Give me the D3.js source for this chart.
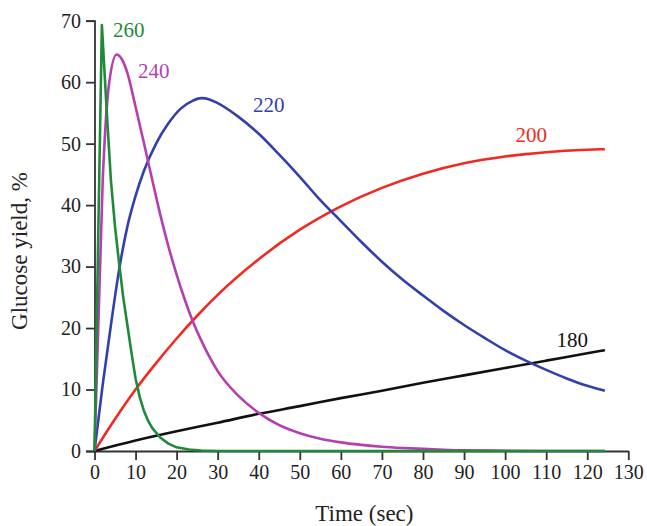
<!DOCTYPE html>
<html>
<head>
<meta charset="utf-8">
<script src="https://cdn.jsdelivr.net/npm/d3@7"></script>
<style>
  body { margin: 0; background: #fff; }
  svg text { font-family: "Liberation Serif", "Times New Roman", serif; }
</style>
</head>
<body>
<div id="chart"></div>
<script>
// values (time in sec, glucose yield in %)
const t180 = [0, 10, 20, 30, 40, 50, 60, 70, 80, 90, 100, 110, 120, 124.3];
const y180 = [0, 1.7, 3.2, 4.6, 6.05, 7.3, 8.6, 9.8, 11.1, 12.3, 13.5, 14.7, 15.9, 16.4];

const t200 = [0, 5, 10, 15, 20, 25, 30, 40, 50, 60, 70, 80, 90, 100, 110, 120, 124.3];
const y200 = [0, 5.2, 10, 14.3, 18.3, 22, 25.4, 31.2, 36, 39.8, 42.8, 45.1, 46.8, 47.9, 48.6, 49.0, 49.1];

const t220 = [0, 2, 4, 6, 8, 10, 12, 15, 18, 21, 24, 26, 28, 30, 35, 40, 45, 50, 55, 60, 65, 70, 75, 80, 85, 90, 95, 100, 105, 110, 115, 120, 124.3];
const y220 = [0, 10.8, 20.5, 29.5, 36.5, 41.5, 45.5, 50, 53.3, 55.7, 57, 57.4, 57.2, 56.6, 54.4, 51.6, 48.2, 44.6, 40.8, 37.4, 34, 30.8, 27.9, 25.3, 22.8, 20.5, 18.4, 16.4, 14.7, 13.2, 11.8, 10.6, 9.8];

const t240 = [0, 2, 3.5, 5.4, 7, 8, 10, 12, 14, 16, 18, 20, 22, 24, 26, 28, 30, 35, 40, 45, 50, 55, 60, 65, 70, 75, 80, 85, 90, 100, 110, 124.3];
const y240 = [0, 44, 59.5, 64.5, 63.3, 61.5, 56, 50.2, 44.3, 38.5, 33.3, 28.7, 24.6, 21.0, 18.0, 15.3, 13.0, 9, 6.2, 4.2, 2.9, 2.0, 1.4, 1.0, 0.7, 0.5, 0.35, 0.2, 0.1, 0.05, 0, 0];

const t260 = [0, 1.8, 3, 4, 5, 6, 7, 8, 9, 10, 11, 12, 13, 14, 16, 18, 20, 23, 26, 30, 40, 124.3];
const y260 = [0, 69.3, 55, 44, 36.5, 30.5, 25, 20.5, 16, 11.8, 8.8, 6.6, 5, 3.8, 2.2, 1.2, 0.6, 0.25, 0.08, 0, 0, 0];

const xTicks = d3.range(0, 131, 10);
const yTicks = d3.range(0, 71, 10);

const series = [
  { name: "180", t: t180, y: y180, color: "#111111", curve: d3.curveMonotoneX, lx: 112.5, ly: 16.9 },
  { name: "200", t: t200, y: y200, color: "#f02a22", curve: d3.curveMonotoneX, lx: 102.5, ly: 50.3 },
  { name: "220", t: t220, y: y220, color: "#3240ac", curve: d3.curveMonotoneX, lx: 38.6, ly: 55.2 },
  { name: "240", t: t240, y: y240, color: "#b43fb0", curve: d3.curveMonotoneX, lx: 10.6, ly: 60.6 },
  { name: "260", t: t260, y: y260, color: "#1f8a3a", curve: d3.curveLinear, lx: 4.5, ly: 67.3 }
];

const width = 647, height = 526;
const plotLeft = 94.5, plotRight = 628.3, plotTop = 20.7, plotBottom = 451;

const svg = d3.select("#chart").append("svg")
  .attr("width", width)
  .attr("height", height);

const x = d3.scaleLinear().domain([0, 130]).range([plotLeft, plotRight]);
const y = d3.scaleLinear().domain([0, 70]).range([plotBottom, plotTop]);

// axes
const xAxis = svg.append("g")
  .attr("transform", `translate(0,${plotBottom})`)
  .call(d3.axisBottom(x).tickValues(xTicks).tickSize(9).tickPadding(5).tickSizeOuter(0));
const yAxis = svg.append("g")
  .attr("transform", `translate(${plotLeft},0)`)
  .call(d3.axisLeft(y).tickValues(yTicks).tickSize(8.5).tickPadding(5).tickSizeOuter(8.5));

[xAxis, yAxis].forEach(g => {
  g.selectAll("path, line").attr("stroke", "#333").attr("stroke-width", 1.8);
  g.selectAll("text")
    .attr("fill", "#222")
    .style("font-family", '"Liberation Serif", serif')
    .style("font-size", "20px");
});

// axis titles
svg.append("text")
  .attr("x", (plotLeft + plotRight) / 2 + 3)
  .attr("y", 521)
  .attr("text-anchor", "middle")
  .attr("fill", "#222")
  .style("font-size", "23px")
  .text("Time (sec)");

svg.append("text")
  .attr("transform", "translate(27,251) rotate(-90)")
  .attr("text-anchor", "middle")
  .attr("fill", "#222")
  .style("font-size", "23px")
  .text("Glucose yield, %");

// curves
series.forEach(s => {
  const pts = s.t.map((t, i) => [t, s.y[i]]);
  const line = d3.line()
    .x(d => x(d[0]))
    .y(d => y(d[1]))
    .curve(s.curve);
  svg.append("path")
    .datum(pts)
    .attr("fill", "none")
    .attr("stroke", s.color)
    .attr("stroke-width", 2.6)
    .attr("stroke-linejoin", "round")
    .attr("d", line);

  svg.append("text")
    .attr("x", x(s.lx))
    .attr("y", y(s.ly))
    .attr("fill", s.color)
    .style("font-size", "21px")
    .text(s.name);
});
</script>
</body>
</html>
